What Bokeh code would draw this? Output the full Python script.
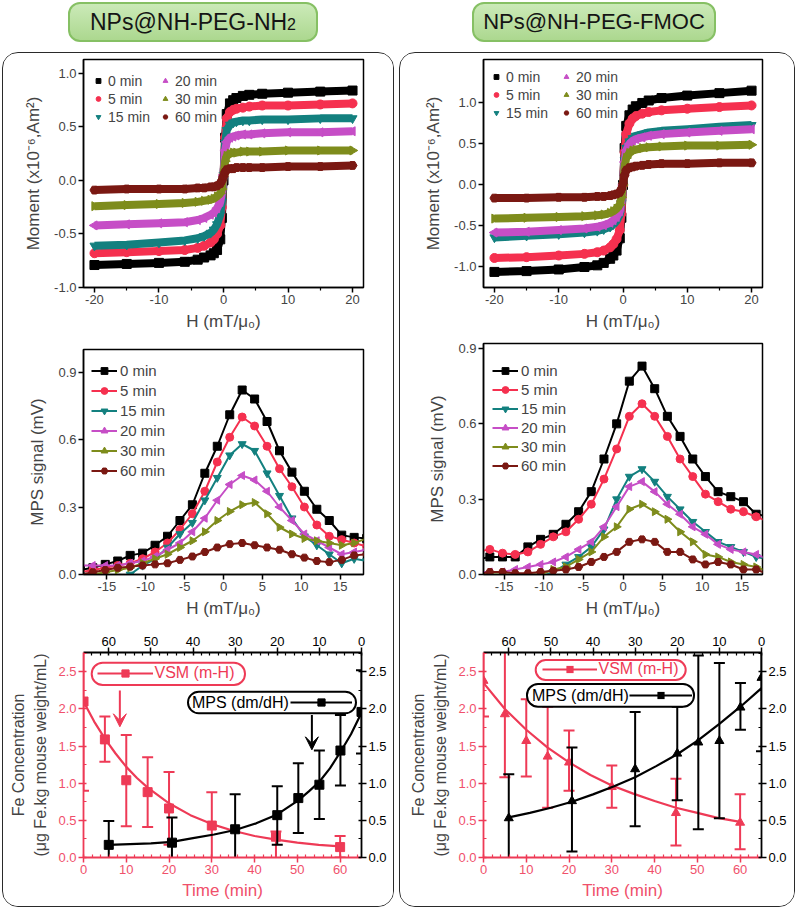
import math
from bokeh.plotting import figure
from bokeh.models import (Range1d, LinearAxis, FixedTicker, PrintfTickFormatter, Legend,
                          LegendItem, Label, BoxAnnotation, Arrow, VeeHead, Div)
from bokeh.layouts import column, row
from bokeh.embed import file_html
from bokeh.resources import INLINE

FONT = "Liberation Sans"

# ---------------- data ----------------
TIME_LABELS = ["0 min", "5 min", "15 min", "20 min", "30 min", "60 min"]

# (a) / (d) magnetisation curves  (H in mT/mu0, moment in 1e-6 Am^2)
MH_FIELD = [-20, -15, -10, -6, -4, -3, -2, -1.5, -1, -0.5, -0.25, 0, 0.25, 0.5, 1, 1.5, 2, 3, 4, 6, 10, 15, 20]
MH_A_0 = [-0.79, -0.78, -0.77, -0.76, -0.74, -0.72, -0.70, -0.68, -0.65, -0.55, -0.35, 0.0, 0.40, 0.62, 0.72, 0.75, 0.77, 0.79, 0.80, 0.81, 0.82, 0.83, 0.84]
MH_A_5 = [-0.68, -0.67, -0.66, -0.65, -0.63, -0.61, -0.58, -0.55, -0.50, -0.42, -0.25, 0.05, 0.40, 0.58, 0.64, 0.66, 0.67, 0.68, 0.69, 0.70, 0.70, 0.71, 0.72]
MH_A_15 = [-0.61, -0.60, -0.58, -0.56, -0.54, -0.52, -0.49, -0.46, -0.41, -0.32, -0.20, 0.05, 0.35, 0.47, 0.52, 0.54, 0.55, 0.56, 0.56, 0.57, 0.57, 0.58, 0.58]
MH_A_20 = [-0.42, -0.41, -0.40, -0.39, -0.37, -0.35, -0.32, -0.30, -0.26, -0.20, -0.12, 0.05, 0.28, 0.36, 0.40, 0.41, 0.42, 0.43, 0.43, 0.44, 0.45, 0.45, 0.46]
MH_A_30 = [-0.24, -0.23, -0.22, -0.21, -0.20, -0.19, -0.18, -0.17, -0.15, -0.12, -0.08, 0.05, 0.18, 0.23, 0.25, 0.26, 0.26, 0.27, 0.27, 0.27, 0.28, 0.28, 0.28]
MH_A_60 = [-0.09, -0.08, -0.08, -0.08, -0.07, -0.07, -0.06, -0.06, -0.05, -0.03, 0.0, 0.04, 0.08, 0.10, 0.11, 0.11, 0.12, 0.12, 0.12, 0.12, 0.13, 0.13, 0.14]

MH_D_0 = [-1.06, -1.05, -1.03, -1.00, -0.98, -0.95, -0.90, -0.86, -0.80, -0.65, -0.40, 0.0, 0.45, 0.72, 0.85, 0.92, 0.96, 1.00, 1.03, 1.06, 1.09, 1.12, 1.15]
MH_D_5 = [-0.89, -0.88, -0.86, -0.84, -0.82, -0.80, -0.76, -0.72, -0.66, -0.55, -0.35, 0.0, 0.40, 0.62, 0.75, 0.81, 0.84, 0.87, 0.89, 0.91, 0.93, 0.95, 0.97]
MH_D_15 = [-0.64, -0.62, -0.60, -0.58, -0.56, -0.54, -0.51, -0.48, -0.44, -0.36, -0.22, 0.0, 0.30, 0.45, 0.53, 0.57, 0.60, 0.62, 0.64, 0.66, 0.68, 0.71, 0.73]
MH_D_20 = [-0.58, -0.57, -0.55, -0.53, -0.51, -0.49, -0.46, -0.43, -0.39, -0.32, -0.20, 0.0, 0.28, 0.42, 0.50, 0.54, 0.56, 0.58, 0.60, 0.62, 0.64, 0.66, 0.68]
MH_D_30 = [-0.41, -0.40, -0.39, -0.38, -0.37, -0.36, -0.34, -0.32, -0.29, -0.24, -0.15, 0.0, 0.22, 0.33, 0.39, 0.42, 0.43, 0.45, 0.46, 0.47, 0.48, 0.48, 0.49]
MH_D_60 = [-0.16, -0.16, -0.15, -0.15, -0.14, -0.14, -0.13, -0.12, -0.11, -0.09, -0.05, 0.02, 0.12, 0.18, 0.21, 0.22, 0.23, 0.24, 0.25, 0.26, 0.26, 0.27, 0.27]

# (b) / (e) MPS signal (mV)
MPS_FIELD = [-18.4, -16.8, -15.2, -13.6, -12.0, -10.4, -8.8, -7.2, -5.6, -4.0, -2.4, -0.8,
             0.8, 2.4, 4.0, 5.6, 7.2, 8.8, 10.4, 12.0, 13.6, 15.2, 16.8, 18.4]
MPS_B_0 = [0.02, 0.03, 0.045, 0.06, 0.085, 0.095, 0.13, 0.17, 0.24, 0.31, 0.45, 0.57, 0.71, 0.82, 0.78, 0.68, 0.55, 0.455, 0.37, 0.29, 0.24, 0.175, 0.165, 0.16]
MPS_B_5 = [0.01, 0.02, 0.03, 0.04, 0.05, 0.07, 0.10, 0.14, 0.20, 0.27, 0.37, 0.50, 0.61, 0.70, 0.66, 0.57, 0.47, 0.39, 0.30, 0.22, 0.17, 0.155, 0.14, 0.125]
MPS_B_15 = [0.0, -0.01, -0.01, -0.01, 0.0, 0.04, 0.07, 0.12, 0.18, 0.23, 0.33, 0.43, 0.53, 0.58, 0.55, 0.45, 0.35, 0.25, 0.17, 0.13, 0.09, 0.05, 0.07, 0.06]
MPS_B_20 = [0.04, 0.04, 0.04, 0.04, 0.05, 0.06, 0.08, 0.11, 0.14, 0.19, 0.25, 0.33, 0.40, 0.44, 0.42, 0.37, 0.30, 0.24, 0.18, 0.15, 0.12, 0.09, 0.10, 0.11]
MPS_B_30 = [0.0, 0.0, 0.01, 0.02, 0.03, 0.05, 0.07, 0.09, 0.12, 0.15, 0.19, 0.24, 0.28, 0.31, 0.32, 0.27, 0.21, 0.18, 0.16, 0.15, 0.14, 0.13, 0.14, 0.16]
MPS_B_60 = [0.0, 0.01, 0.02, 0.03, 0.035, 0.04, 0.045, 0.05, 0.065, 0.08, 0.10, 0.12, 0.135, 0.14, 0.13, 0.12, 0.11, 0.09, 0.075, 0.06, 0.055, 0.065, 0.085, 0.09]

MPS_E_0 = [0.06, 0.07, 0.07, 0.07, 0.11, 0.14, 0.16, 0.20, 0.25, 0.33, 0.46, 0.60, 0.77, 0.83, 0.74, 0.63, 0.55, 0.46, 0.39, 0.33, 0.31, 0.29, 0.24, 0.23]
MPS_E_5 = [0.09, 0.10, 0.085, 0.08, 0.09, 0.12, 0.15, 0.17, 0.22, 0.28, 0.38, 0.50, 0.63, 0.68, 0.63, 0.55, 0.46, 0.39, 0.32, 0.29, 0.26, 0.25, 0.23, 0.21]
MPS_E_15 = [-0.01, -0.01, -0.01, -0.01, -0.01, -0.01, 0.01, 0.04, 0.07, 0.11, 0.18, 0.30, 0.39, 0.42, 0.37, 0.31, 0.26, 0.21, 0.17, 0.13, 0.11, 0.09, 0.07, 0.06]
MPS_E_20 = [0.01, 0.01, 0.01, 0.02, 0.03, 0.04, 0.05, 0.07, 0.10, 0.13, 0.19, 0.27, 0.35, 0.37, 0.33, 0.28, 0.24, 0.19, 0.16, 0.12, 0.10, 0.09, 0.08, 0.06]
MPS_E_30 = [0.0, 0.0, 0.0, 0.0, 0.0, 0.0, 0.02, 0.03, 0.06, 0.09, 0.15, 0.19, 0.26, 0.28, 0.25, 0.22, 0.17, 0.13, 0.08, 0.07, 0.05, 0.04, 0.03, 0.01]
MPS_E_60 = [0.0, 0.01, 0.01, 0.005, 0.005, 0.01, 0.015, 0.02, 0.03, 0.05, 0.07, 0.09, 0.13, 0.14, 0.13, 0.09, 0.09, 0.06, 0.04, 0.05, 0.04, 0.02, 0.02, 0.0]

# (c) Fe concentration, VSM (bottom time axis) and MPS (top, reversed time axis)
C_VSM_T = [0, 5, 10, 15, 20, 30, 45, 60]
C_VSM_V = [2.10, 1.59, 1.04, 0.88, 0.66, 0.43, 0.28, 0.14]
C_VSM_LO = [0.90, 1.29, 0.42, 0.41, 0.17, -0.02, -0.05, 0.0]
C_VSM_HI = [3.30, 1.90, 1.65, 1.35, 1.15, 0.88, 0.35, 0.29]
C_VSM_FIT_T = [0, 2.5, 5, 7.5, 10, 12.5, 15, 20, 25, 30, 35, 40, 45, 50, 55, 60]
C_VSM_FIT_V = [2.10, 1.83, 1.60, 1.40, 1.22, 1.07, 0.94, 0.73, 0.57, 0.45, 0.36, 0.29, 0.24, 0.20, 0.17, 0.15]
C_MPS_T = [60, 45, 30, 20, 15, 10, 5, 0]
C_MPS_V = [0.17, 0.20, 0.38, 0.57, 0.80, 0.98, 1.44, 1.96]
C_MPS_LO = [-0.15, -0.14, -0.09, 0.17, 0.33, 0.52, 0.97, 1.40]
C_MPS_HI = [0.49, 0.54, 0.85, 0.96, 1.27, 1.44, 1.92, 2.52]
C_MPS_FIT_T = [0, 2.5, 5, 7.5, 10, 12.5, 15, 20, 25, 30, 35, 40, 45, 50, 55, 60]
C_MPS_FIT_V = [1.95, 1.66, 1.42, 1.20, 1.02, 0.89, 0.77, 0.58, 0.46, 0.37, 0.31, 0.26, 0.21, 0.19, 0.18, 0.17]

# (f)
F_VSM_T = [0, 5, 10, 15, 20, 30, 45, 60]
F_VSM_V = [2.38, 1.93, 1.57, 1.36, 1.28, 0.95, 0.60, 0.47]
F_VSM_LO = [1.90, 1.08, 1.09, 0.67, 0.90, 0.67, 0.16, 0.11]
F_VSM_HI = [2.86, 2.78, 2.13, 2.03, 1.71, 1.24, 1.06, 0.85]
F_VSM_FIT_T = [0, 5, 10, 15, 20, 25, 30, 35, 40, 45, 50, 55, 60]
F_VSM_FIT_V = [2.35, 2.00, 1.72, 1.48, 1.28, 1.11, 0.97, 0.86, 0.76, 0.67, 0.60, 0.53, 0.48]
F_MPS_T = [60, 45, 30, 20, 15, 10, 5, 0]
F_MPS_V = [0.53, 0.76, 1.19, 1.40, 1.55, 1.57, 2.02, 2.42]
F_MPS_LO = [-0.06, 0.08, 0.42, 0.77, 0.38, 0.53, 1.72, 1.43]
F_MPS_HI = [1.12, 1.48, 1.96, 2.03, 2.72, 2.62, 2.35, 3.41]
F_MPS_FIT_T = [0, 5, 10, 15, 20, 25, 30, 35, 40, 45, 50, 55, 60]
F_MPS_FIT_V = [2.28, 2.03, 1.80, 1.58, 1.39, 1.23, 1.08, 0.96, 0.85, 0.75, 0.67, 0.60, 0.54]

HEADERS = [("NPs@NH-PEG-NH", "2"), ("NPs@NH-PEG-FMOC", "")]

# ---------------- styles ----------------
COLORS = ["#000000", "#f5304f", "#13807f", "#c64ec6", "#7e8c1c", "#7a1812"]
MARKERS = ["square", "circle", "inverted_triangle", "triangle", "triangle", "hex"]
ANGLES = [0, 0, 0, math.pi / 2, -math.pi / 2, 0]
RED = "#ee3a56"
RED_TXT = "#f0506b"

LEFT_COL_X = 2 + 1.5
RIGHT_COL_X = 400 + 1.5


def base_axes(p, xticks, xminor, yticks, yminor, yfmt):
    p.outline_line_color = "black"
    p.outline_line_width = 1.5
    p.xgrid.visible = False
    p.ygrid.visible = False
    ax, ay = p.xaxis[0], p.yaxis[0]
    ax.ticker = FixedTicker(ticks=xticks, minor_ticks=xminor)
    ay.ticker = FixedTicker(ticks=yticks, minor_ticks=yminor)
    ay.formatter = PrintfTickFormatter(format=yfmt)
    ax.formatter = PrintfTickFormatter(format="%d")
    for a in (ax, ay):
        a.axis_line_width = 1.5
        a.major_tick_in = 0
        a.major_tick_out = 5
        a.minor_tick_in = 0
        a.minor_tick_out = 3
        a.major_tick_line_width = 1.5
        a.minor_tick_line_width = 1.2
        a.major_label_text_font = FONT
        a.major_label_text_font_size = "13px"
        a.major_label_standoff = 2
        a.axis_label_text_font = FONT
        a.axis_label_text_font_size = "17px"
        a.axis_label_text_font_style = "normal"
    ax.axis_label_standoff = 5
    ay.axis_label_standoff = 8
    ax.axis_label = "H (mT/\u03bc\u2080)"


def tag_label(p, text, xoff, yoff, xr, yr):
    p.add_layout(Label(x=xr[0], y=yr[1], x_offset=xoff, y_offset=yoff, text=text,
                       text_font=FONT, text_font_size="17px", text_font_style="bold",
                       text_baseline="middle", text_align="left"))


def mh_fig(series, yr, yticks, bl, br, fw, leg1, leg2, pitch, tag, tag_xoff):
    xr = (-21.7, 21.7)
    p = figure(frame_width=fw, frame_height=228, x_range=Range1d(*xr), y_range=Range1d(*yr),
               output_backend="svg", toolbar_location=None,
               min_border_left=bl, min_border_right=br, min_border_top=6, min_border_bottom=50)
    base_axes(p, [-20, -10, 0, 10, 20], [-15, -5, 5, 15], yticks,
              [], "%.1f")
    p.yaxis[0].axis_label = "Moment (x10\u207b\u2076,Am\u00b2)"
    rs = []
    for ys, c, m, a in zip(series, COLORS, MARKERS, ANGLES):
        p.line(MH_FIELD, ys, line_color=c, line_width=8, line_join="round")
        rs.append(p.scatter(MH_FIELD, ys, marker=m, angle=a, size=9, color=c))
    for loc, idx in ((leg1, [0, 1, 2]), (leg2, [3, 4, 5])):
        lg = Legend(items=[LegendItem(label=TIME_LABELS[i], renderers=[rs[i]]) for i in idx],
                    location=loc, background_fill_alpha=0, border_line_color=None,
                    label_text_font=FONT, label_text_font_size="14px", glyph_width=12,
                    glyph_height=pitch - 1, label_height=pitch - 1, spacing=1, padding=0, margin=0,
                    label_standoff=4)
        p.add_layout(lg)
    tag_label(p, tag, tag_xoff, -10, xr, yr)
    return p


def mps_fig(series, yr, yticks, bl, br, fw, fh, top, leg_loc, spacing, tag, tag_xoff, tag_yoff, xr):
    p = figure(frame_width=fw, frame_height=fh, x_range=Range1d(*xr), y_range=Range1d(*yr),
               output_backend="svg", toolbar_location=None,
               min_border_left=bl, min_border_right=br, min_border_top=top, min_border_bottom=48)
    base_axes(p, [-15, -10, -5, 0, 5, 10, 15], [], yticks, [], "%.1f")
    p.yaxis[0].axis_label = "MPS signal (mV)"
    items = []
    for ys, c, m, a, lab in zip(series, COLORS, MARKERS, ANGLES, TIME_LABELS):
        lr = p.line(MPS_FIELD, ys, line_color=c, line_width=2)
        sr = p.scatter(MPS_FIELD, ys, marker=m, angle=a, size=8, color=c)
        items.append(LegendItem(label=lab, renderers=[lr, sr]))
    lg = Legend(items=items, location=leg_loc, background_fill_alpha=0, border_line_color=None,
                label_text_font=FONT, label_text_font_size="15px", glyph_width=26,
                glyph_height=17, label_height=17, spacing=spacing, padding=0, margin=0,
                label_standoff=3)
    p.add_layout(lg)
    tag_label(p, tag, tag_xoff, tag_yoff, xr, yr)
    return p


def conc_fig(fl, bl, br, vsm, mps, red_marker, blk_marker, boxes, tag, tag_xoff, arrows):
    xr, yr, tr = (0, 65), (0, 2.76), (66, 0)
    fw, fh, ft = 278, 205, 652.5
    p = figure(frame_width=fw, frame_height=fh, x_range=Range1d(*xr), y_range=Range1d(*yr),
               output_backend="svg", toolbar_location=None,
               min_border_left=bl, min_border_right=br, min_border_top=30, min_border_bottom=49)
    p.extra_x_ranges = {"top": Range1d(*tr)}
    p.extra_y_ranges = {"right": Range1d(*yr)}
    p.outline_line_color = None
    p.xgrid.visible = False
    p.ygrid.visible = False

    def px(x_px, y_px):
        return (xr[0] + (x_px - fl) / fw * (xr[1] - xr[0]),
                yr[1] - (y_px - ft) / fh * (yr[1] - yr[0]))

    bottom, left = p.xaxis[0], p.yaxis[0]
    top_ax = LinearAxis(x_range_name="top")
    right_ax = LinearAxis(y_range_name="right")
    p.add_layout(top_ax, "above")
    p.add_layout(right_ax, "right")
    tticks = [0, 10, 20, 30, 40, 50, 60]
    tminor = [v for v in range(0, 66, 2) if v % 10]
    vticks = [0, 0.5, 1.0, 1.5, 2.0, 2.5]
    vminor = [0.25, 0.75, 1.25, 1.75, 2.25, 2.75]
    for a, col, ticks, minor in ((bottom, RED, tticks, tminor), (top_ax, "black", tticks, tminor),
                                 (left, RED, vticks, vminor), (right_ax, "black", vticks, vminor)):
        a.ticker = FixedTicker(ticks=ticks, minor_ticks=minor)
        a.formatter = PrintfTickFormatter(format="%.1f" if ticks is vticks else "%d")
        a.axis_line_color = col
        a.axis_line_width = 1.8
        a.major_tick_line_color = col
        a.minor_tick_line_color = col
        a.major_tick_line_width = 1.5
        a.minor_tick_line_width = 1.2
        a.major_tick_in = 3
        a.major_tick_out = 5
        a.minor_tick_in = 3
        a.minor_tick_out = 0
        a.major_label_text_font = FONT
        a.major_label_text_font_size = "13px"
        a.major_label_text_color = RED_TXT if col == RED else "black"
        a.major_label_standoff = 2
        a.axis_label_text_font = FONT
        a.axis_label_text_font_style = "normal"
    bottom.axis_label = "Time (min)"
    bottom.axis_label_text_color = RED_TXT
    bottom.axis_label_text_font_size = "17px"
    bottom.axis_label_standoff = 4
    left.axis_label = "Fe Concentration\n(\u03bcg Fe.kg mouse weight/mL)"
    left.axis_label_text_font_size = "16px"
    left.axis_label_text_line_height = 1.3
    left.axis_label_standoff = 6

    vt, vv, vlo, vhi, vft, vfv = vsm
    mt, mv, mlo, mhi, mft, mfv = mps
    # VSM (red)
    red_fit = p.line(vft, vfv, line_color=RED, line_width=2.2)
    p.segment(vt, vlo, vt, vhi, line_color=RED, line_width=2)
    p.scatter(vt, vlo, marker="dash", size=11, line_color=RED, line_width=2)
    p.scatter(vt, vhi, marker="dash", size=11, line_color=RED, line_width=2)
    red_pts = p.scatter(vt, vv, marker=red_marker, size=9, color=RED)
    # MPS (black) on the top / right axes
    kw = dict(x_range_name="top", y_range_name="right")
    blk_fit = p.line(mft, mfv, line_color="black", line_width=2.2, **kw)
    p.segment(mt, mlo, mt, mhi, line_color="black", line_width=2, **kw)
    p.scatter(mt, mlo, marker="dash", size=11, line_color="black", line_width=2, **kw)
    p.scatter(mt, mhi, marker="dash", size=11, line_color="black", line_width=2, **kw)
    blk_pts = p.scatter(mt, mv, marker=blk_marker, size=9, color="black", **kw)
    red_key = red_pts
    blk_key = blk_pts
    if red_marker != "square":
        # legend key uses square symbols; zero-size renderers so nothing extra shows in the plot
        red_key = p.scatter(vt, vv, marker="square", size=0, fill_color=RED, line_color=None)
        blk_key = p.scatter(mt, mv, marker="square", size=0, fill_color="black", line_color=None, **kw)

    # legend boxes
    (vb, vglyph, vgw), (mb, mtext, mglyph, mgw) = boxes
    for (x0, x1, y0, y1), col in ((vb, RED), (mb, "black")):
        l, t = px(x0, y0)
        r, b = px(x1, y1)
        p.add_layout(BoxAnnotation(left=l, right=r, top=t, bottom=b, fill_color="white", fill_alpha=1,
                                   line_color=col, line_alpha=1, line_width=2, border_radius=11))
    fb = ft + fh
    lg1 = Legend(items=[LegendItem(label="VSM (m-H)", renderers=[red_fit, red_key])],
                 location=(vglyph[0] - fl, fb - vglyph[1] - 8), background_fill_alpha=0,
                 border_line_color=None, label_text_font=FONT, label_text_font_size="16px",
                 label_text_color=RED, glyph_width=vgw, glyph_height=18, label_height=16,
                 padding=0, margin=0, label_standoff=2)
    p.add_layout(lg1)
    tx, ty = px(mtext[0], mtext[1])
    p.add_layout(Label(x=tx, y=ty, text="MPS (dm/dH)", text_font=FONT, text_font_size="16px",
                       text_baseline="middle", text_align="left", text_color="black"))
    lg2 = Legend(items=[LegendItem(label=" ", renderers=[blk_fit, blk_key])],
                 location=(mglyph[0] - fl, fb - mglyph[1] - 9), background_fill_alpha=0,
                 border_line_color=None, label_text_font=FONT, label_text_font_size="16px",
                 glyph_width=mgw, glyph_height=18, label_height=16, padding=0, margin=0,
                 label_standoff=0)
    p.add_layout(lg2)
    for (x0, y0, y1), col in arrows:
        p.add_layout(Arrow(x_start=x0, y_start=y0, x_end=x0, y_end=y1, line_color=col, line_width=2,
                           end=VeeHead(size=13, fill_color=col, line_color=col)))
    tag_label(p, tag, tag_xoff, 12, xr, yr)
    return p


pa = mh_fig([MH_A_0, MH_A_5, MH_A_15, MH_A_20, MH_A_30, MH_A_60], (-1.0, 1.13),
            [-1.0, -0.5, 0.0, 0.5, 1.0], 78, 32, 280, (9, 162), (76, 162), 18, "(a)", -76)
pd = mh_fig([MH_D_0, MH_D_5, MH_D_15, MH_D_20, MH_D_30, MH_D_60], (-1.25, 1.53),
            [-1.0, -0.5, 0.0, 0.5, 1.0], 82, 33, 279, (7, 166), (77, 166), 18, "(d)", -78)
pb = mps_fig([MPS_B_0, MPS_B_5, MPS_B_15, MPS_B_20, MPS_B_30, MPS_B_60], (0, 1.0),
             [0.0, 0.3, 0.6, 0.9], 78, 32, 280, 225, 12, (8, 95), 3, "(b)", -75, -10, (-18, 18))
pe = mps_fig([MPS_E_0, MPS_E_5, MPS_E_15, MPS_E_20, MPS_E_30, MPS_E_60], (0, 0.92),
             [0.0, 0.3, 0.6, 0.9], 82, 33, 279, 231, 6, (9, 100), 2, "(e)", -77, -17, (-17.6, 17.6))

fl_c = LEFT_COL_X + 80
pc = conc_fig(fl_c, 80, 32,
              (C_VSM_T, C_VSM_V, C_VSM_LO, C_VSM_HI, C_VSM_FIT_T, C_VSM_FIT_V),
              (C_MPS_T, C_MPS_V, C_MPS_LO, C_MPS_HI, C_MPS_FIT_T, C_MPS_FIT_V),
              "square", "square",
              (((91.7, 245, 662.7, 685), (97, 674), 56),
               ((188, 356, 691.7, 713.3), (192, 702.5), (290, 702.5), 62)),
              "(c)", -76,
              [((8.5, 2.25, 1.76), RED), ((53.4, 1.92, 1.45), "black")])
fl_f = RIGHT_COL_X + 83
pf = conc_fig(fl_f, 83, 33,
              (F_VSM_T, F_VSM_V, F_VSM_LO, F_VSM_HI, F_VSM_FIT_T, F_VSM_FIT_V),
              (F_MPS_T, F_MPS_V, F_MPS_LO, F_MPS_HI, F_MPS_FIT_T, F_MPS_FIT_V),
              "triangle", "triangle",
              (((536.7, 686.7, 660, 680), (543, 670), 55),
               ((528, 695, 684, 706.7), (533, 695.3), (630, 695.3), 63)),
              "(f)", -76, [])


def header(text, sub, ml, w, total_w, fs):
    sub_html = ('<sub style="font-size:16px;position:relative;top:3px;">%s</sub>' % sub) if sub else ""
    html = ('<div style="margin-left:%dpx;width:%dpx;height:40px;white-space:nowrap;'
            'background:linear-gradient(#cbeab8,#acd88f);border:2px solid #86c064;border-radius:12px;'
            'display:flex;align-items:center;justify-content:center;'
            "font-family:'Liberation Sans',Arial,sans-serif;font-size:%dpx;color:#151515;\">"
            '%s%s</div>') % (ml, w, fs, text, sub_html)
    return Div(text=html, width=total_w, height=50, styles={"margin": "0", "padding": "0"})


box_style = {"border": "1.5px solid #2a2a2a", "border-radius": "16px", "overflow": "hidden"}
left_box = column(pa, pb, pc, spacing=0, styles=box_style)
right_box = column(pd, pe, pf, spacing=0, styles=box_style)
hdr = row(header(HEADERS[0][0], HEADERS[0][1], 66, 250, 393, 23),
          header(HEADERS[1][0], HEADERS[1][1], 72, 244, 397, 22), spacing=5)
root = column(hdr, row(left_box, right_box, spacing=5), spacing=0,
              styles={"margin-left": "2px", "margin-top": "2px"})

open("out.html", "w").write(file_html(root, INLINE))
